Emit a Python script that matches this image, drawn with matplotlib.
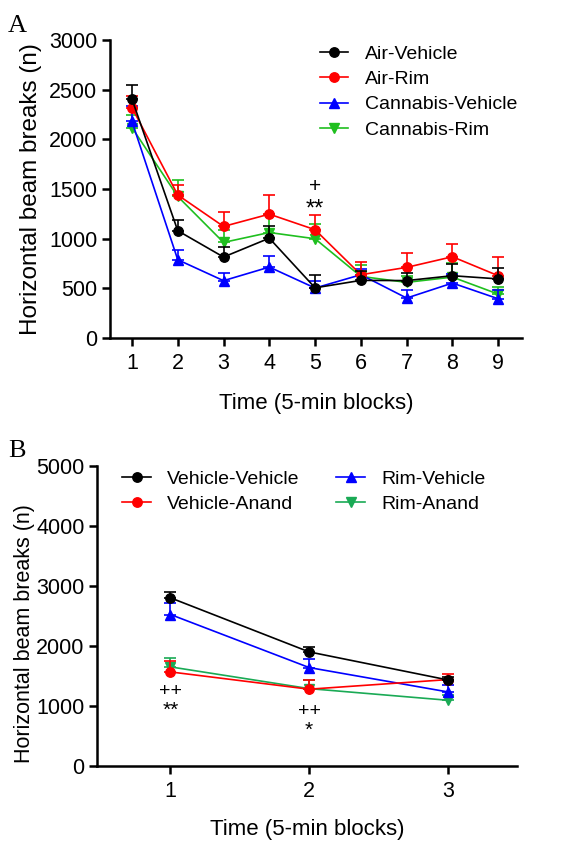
#!/usr/bin/env python3
"""
Locomotor activity (horizontal beam breaks) over 5-min blocks, panels A and B
"""

import numpy as np
import matplotlib
matplotlib.use('Agg')
import matplotlib.pyplot as plt

matplotlib.rcParams['font.family'] = ['Liberation Sans', 'DejaVu Sans']

# ---- panel A data ----
blocks_a = [1, 2, 3, 4, 5, 6, 7, 8, 9]
air_veh = [2405, 1080, 815, 1005, 505, 580, 578, 627, 595]
air_veh_err = [140, 110, 100, 120, 130, 90, 80, 120, 110]
air_rim = [2320, 1440, 1123, 1247, 1090, 637, 711, 818, 627]
air_rim_err = [120, 100, 145, 190, 145, 125, 145, 130, 185]
can_veh = [2180, 788, 577, 714, 503, 637, 402, 553, 395]
can_veh_err = [160, 95, 77, 107, 70, 60, 77, 90, 85]
can_rim = [2118, 1425, 962, 1062, 999, 620, 560, 613, 442]
can_rim_err = [130, 167, 127, 178, 150, 117, 60, 140, 70]

# ---- panel B data ----
blocks_b = [1, 2, 3]
veh_veh = [2803, 1902, 1435]
veh_veh_err = [100, 85, 50]
veh_anand = [1568, 1280, 1440]
veh_anand_err = [175, 160, 100]
rim_veh = [2525, 1641, 1235]
rim_veh_err = [185, 135, 120]
rim_anand = [1652, 1290, 1096]
rim_anand_err = [155, 150, 83]


def draw_series(ax, x, y, err, color, marker, label, z, ms=6.8):
    err = np.asarray(err)
    ax.errorbar(x, y, yerr=[np.zeros_like(err), err], fmt='none', ecolor=color,
                elinewidth=1.2, capsize=4, capthick=1.2, zorder=z)
    ax.plot(x, y, color=color, marker=marker, markersize=ms, linewidth=1.2,
            label=label, zorder=z + 0.5)


def style_axes(ax):
    for side in ['top', 'right']:
        ax.spines[side].set_visible(False)
    for side in ['left', 'bottom']:
        ax.spines[side].set_linewidth(1.8)
    ax.tick_params(axis='both', which='major', width=1.8, length=6,
                   labelsize=15.5, direction='out')
    ax.tick_params(axis='x', pad=5)
    ax.tick_params(axis='y', pad=3)


fig = plt.figure(figsize=(5.67, 8.41), dpi=100)
W, H = 567, 841

# Panel A
ax_a = fig.add_axes([110 / W, 1 - 338 / H, 412 / W, 298 / H])
draw_series(ax_a, blocks_a, can_rim, can_rim_err, '#1fbf1f', 'v', 'Cannabis-Rim', 2)
draw_series(ax_a, blocks_a, can_veh, can_veh_err, '#0000ff', '^', 'Cannabis-Vehicle', 3)
draw_series(ax_a, blocks_a, air_rim, air_rim_err, '#ff0000', 'o', 'Air-Rim', 4)
draw_series(ax_a, blocks_a, air_veh, air_veh_err, 'black', 'o', 'Air-Vehicle', 5)
ax_a.set_xlim(0.52, 9.52)
ax_a.set_ylim(0, 3000)
ax_a.set_xticks(blocks_a)
ax_a.set_yticks([0, 500, 1000, 1500, 2000, 2500, 3000])
style_axes(ax_a)
ax_a.set_xlabel('Time (5-min blocks)', fontsize=16)
ax_a.set_ylabel('Horizontal beam breaks (n)', fontsize=17.5)
ax_a.xaxis.set_label_coords(0.5, -0.185)
ax_a.yaxis.set_label_coords(-0.165, 0.5)
ax_a.text(5, 1525, '+', ha='center', va='center', fontsize=15)
ax_a.text(5, 1290, '**', ha='center', va='center', fontsize=17)

h, l = ax_a.get_legend_handles_labels()
order = [3, 2, 1, 0]
fig.legend([h[i] for i in order], [l[i] for i in order],
           loc='upper left', bbox_to_anchor=(320 / W, 1 - 45 / H),
           frameon=False, fontsize=14, handlelength=1.45, handletextpad=0.85,
           borderpad=0, borderaxespad=0, labelspacing=0.4)

fig.text(8 / W, 1 - 32 / H, 'A', fontsize=19, family='Liberation Serif')

# Panel B
ax_b = fig.add_axes([97 / W, 1 - 766 / H, 420 / W, 300 / H])
draw_series(ax_b, blocks_b, rim_anand, rim_anand_err, '#1aaa55', 'v', 'Rim-Anand', 2)
draw_series(ax_b, blocks_b, rim_veh, rim_veh_err, '#0000ff', '^', 'Rim-Vehicle', 3)
draw_series(ax_b, blocks_b, veh_anand, veh_anand_err, '#ff0000', 'o', 'Vehicle-Anand', 4)
draw_series(ax_b, blocks_b, veh_veh, veh_veh_err, 'black', 'o', 'Vehicle-Vehicle', 5)
ax_b.set_xlim(0.47, 3.5)
ax_b.set_ylim(0, 5000)
ax_b.set_xticks(blocks_b)
ax_b.set_yticks([0, 1000, 2000, 3000, 4000, 5000])
style_axes(ax_b)
ax_b.set_xlabel('Time (5-min blocks)', fontsize=16)
ax_b.set_ylabel('Horizontal beam breaks (n)', fontsize=15.5)
ax_b.xaxis.set_label_coords(0.5, -0.175)
ax_b.yaxis.set_label_coords(-0.148, 0.44)
ax_b.text(1, 1235, '++', ha='center', va='center', fontsize=14)
ax_b.text(1, 920, '**', ha='center', va='center', fontsize=15)
ax_b.text(2, 901, '++', ha='center', va='center', fontsize=14)
ax_b.text(2, 590, '*', ha='center', va='center', fontsize=15)

h, l = ax_b.get_legend_handles_labels()
fig.legend([h[i] for i in order], [l[i] for i in order], ncol=2,
           loc='upper left', bbox_to_anchor=(122 / W, 1 - 470 / H),
           frameon=False, fontsize=14, handlelength=1.5, handletextpad=0.8,
           borderpad=0, borderaxespad=0, labelspacing=0.4, columnspacing=1.9)

fig.text(8 / W, 1 - 457 / H, 'B', fontsize=19, family='Liberation Serif')

fig.savefig('out.png', dpi=100)
